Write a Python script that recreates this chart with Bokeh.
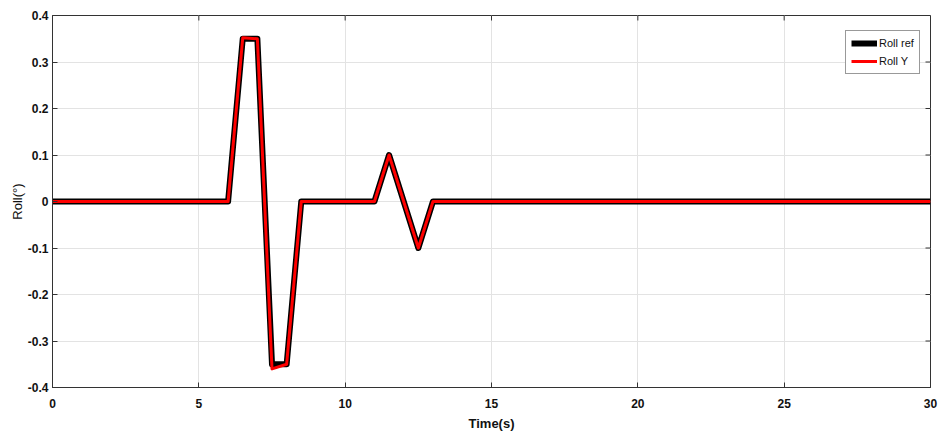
import math
from bokeh.plotting import figure
from bokeh.models import FixedTicker, Range1d, Legend, LegendItem
from bokeh.embed import file_html
from bokeh.resources import INLINE

# Data
t_ref = [0, 6, 6.5, 7, 7.5, 8, 8.5, 11, 11.5, 12.5, 13, 30]
roll_ref = [0, 0, 0.35, 0.35, -0.35, -0.35, 0, 0, 0.1, -0.1, 0, 0]
t_y = [0, 6, 6.5, 7, 7.5, 8, 8.5, 11, 11.5, 12.5, 13, 30]
roll_y = [0, 0, 0.352, 0.35, -0.36, -0.35, 0, 0, 0.1, -0.1, 0, 0]
x_ticks = [0, 5, 10, 15, 20, 25, 30]
y_ticks = [-0.4, -0.3, -0.2, -0.1, 0, 0.1, 0.2, 0.3, 0.4]
y_labels = {-0.4: "-0.4", -0.3: "-0.3", -0.2: "-0.2", -0.1: "-0.1", 0: "0",
            0.1: "0.1", 0.2: "0.2", 0.3: "0.3", 0.4: "0.4"}
x_min, x_max = 0, 30
y_min, y_max = -0.4, 0.4

FONT = "Liberation Sans Narrow, Arial Narrow, Liberation Sans, Arial"

p = figure(width=938, height=438, output_backend="svg", toolbar_location=None,
           x_range=Range1d(x_min, x_max), y_range=Range1d(y_min, y_max),
           min_border_left=52, min_border_right=8, min_border_top=15, min_border_bottom=51)
p.background_fill_color = "white"
p.border_fill_color = "white"
p.outline_line_color = "#333333"
p.outline_line_width = 1

for ax in (p.xaxis[0], p.yaxis[0]):
    ax.major_tick_in = 5
    ax.major_tick_out = 0
    ax.minor_tick_line_color = None
    ax.axis_line_color = "#333333"
    ax.major_tick_line_color = "#333333"
    ax.major_label_text_font = FONT
    ax.major_label_text_font_style = "bold"
    ax.major_label_text_font_size = "12px"
    ax.major_label_text_color = "#111111"
    ax.axis_label_text_font = FONT
    ax.axis_label_text_font_size = "13px"
    ax.axis_label_text_color = "#111111"

p.xaxis[0].ticker = FixedTicker(ticks=x_ticks)
p.yaxis[0].ticker = FixedTicker(ticks=y_ticks)
p.yaxis[0].major_label_overrides = y_labels
p.xaxis[0].axis_label = "Time(s)"
p.xaxis[0].axis_label_text_font_style = "bold"
p.yaxis[0].axis_label = "Roll(°)"
p.yaxis[0].axis_label_text_font_style = "normal"
p.xaxis[0].major_label_standoff = 11
p.yaxis[0].major_label_standoff = 4
p.xaxis[0].axis_label_standoff = 5
p.yaxis[0].axis_label_standoff = 0

p.xgrid.ticker = FixedTicker(ticks=x_ticks)
p.ygrid.ticker = FixedTicker(ticks=y_ticks)
p.xgrid.grid_line_color = "#e3e3e3"
p.ygrid.grid_line_color = "#e3e3e3"

# mirrored inward ticks on the top and right edges of the box
p.ray(x=x_ticks, y=[y_max] * len(x_ticks), length=5, length_units="screen",
      angle=-math.pi / 2, line_color="#333333", line_width=1)
p.ray(x=[x_max] * len(y_ticks), y=y_ticks, length=5, length_units="screen",
      angle=math.pi, line_color="#333333", line_width=1)

r_ref = p.line(t_ref, roll_ref, line_color="black", line_width=6, line_join="round")
r_y = p.line(t_y, roll_y, line_color="#ff0000", line_width=3, line_join="round")

legend = Legend(items=[LegendItem(label="Roll ref", renderers=[r_ref]),
                       LegendItem(label="Roll Y", renderers=[r_y])],
                location=(793, 313))
legend.label_text_font = FONT
legend.label_text_font_size = "11px"
legend.label_text_color = "#111111"
legend.glyph_width = 26
legend.glyph_height = 14
legend.label_standoff = 2
legend.spacing = 4
legend.padding = 5
legend.margin = 0
legend.border_line_color = "#333333"
legend.border_line_width = 1
legend.background_fill_alpha = 1
p.add_layout(legend)

open("out.html", "w").write(file_html(p, INLINE))
